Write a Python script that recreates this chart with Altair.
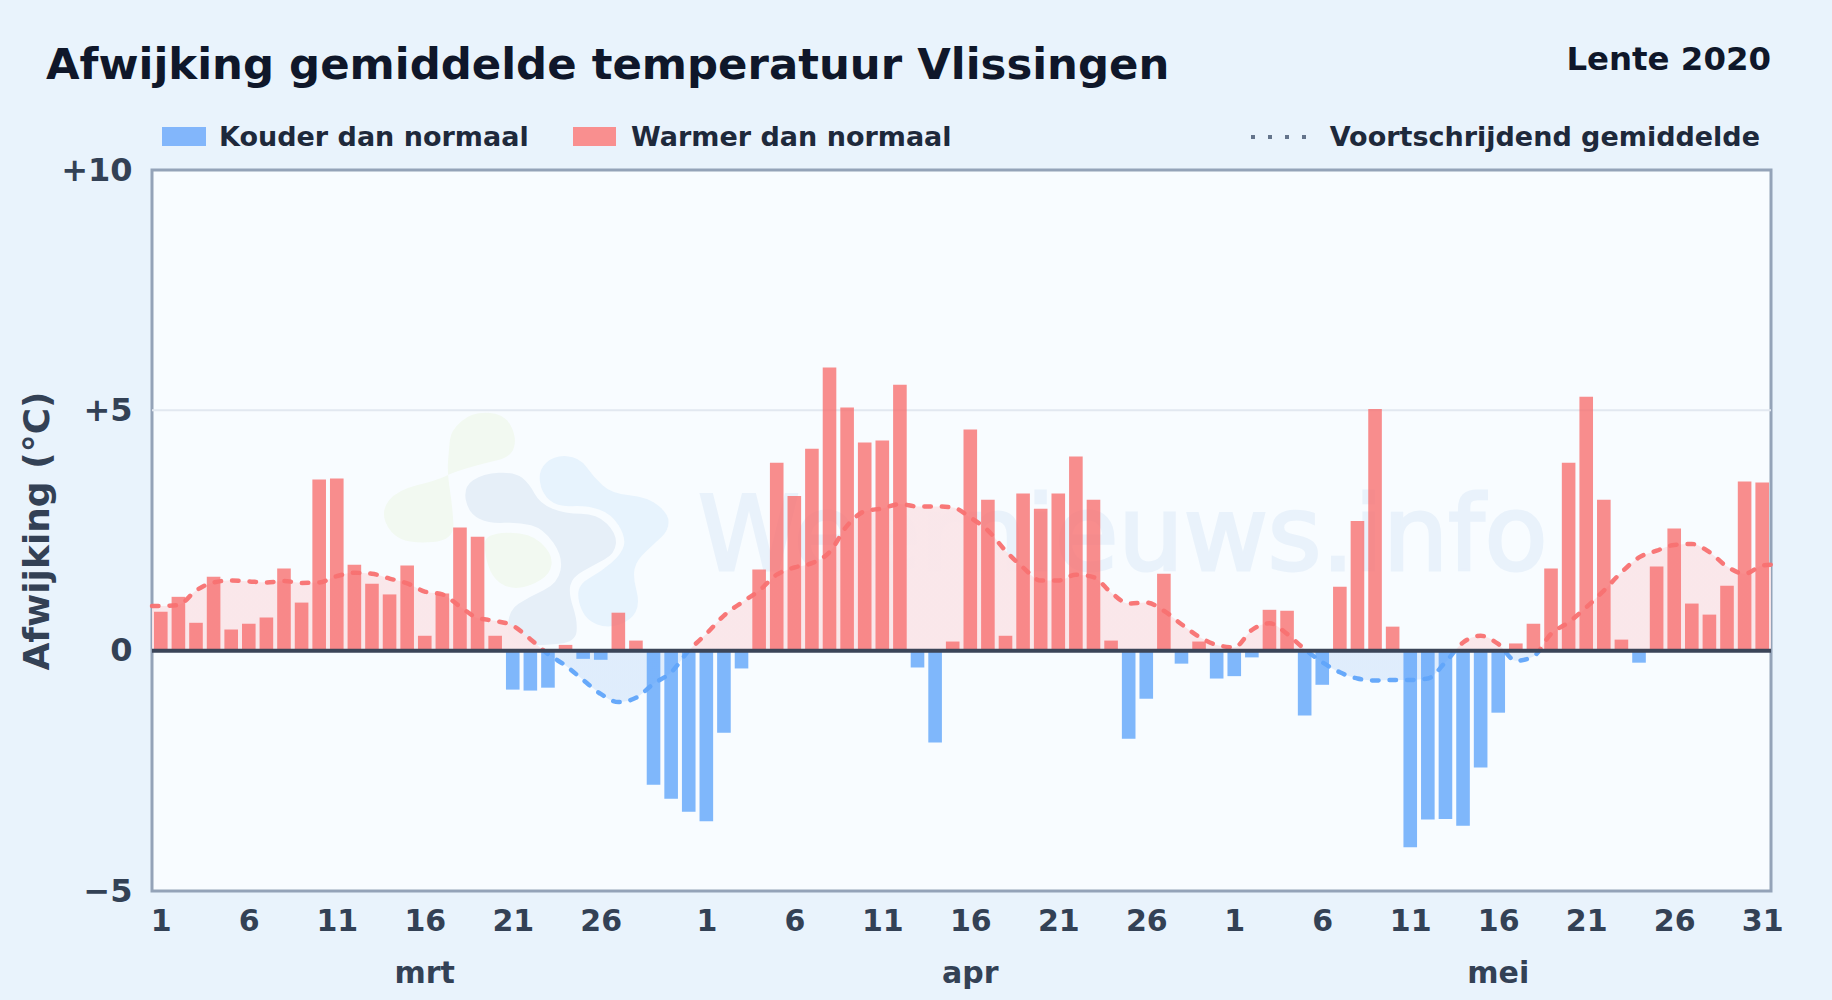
import altair as alt
import pandas as pd

# ---- data ----
anomaly = [
    # March
    0.81, 1.12, 0.58, 1.54, 0.44, 0.56, 0.69, 1.71, 1.00, 3.56, 3.58, 1.79, 1.39, 1.17, 1.77, 0.31,
    1.19, 2.56, 2.37, 0.31, -0.81, -0.83, -0.77, 0.12, -0.17, -0.19, 0.79, 0.21, -2.79, -3.08, -3.35,
    # April
    -3.55, -1.71, -0.37, 1.69, 3.91, 3.22, 4.20, 5.89, 5.06, 4.33, 4.37, 5.53, -0.35, -1.91, 0.19,
    4.60, 3.14, 0.31, 3.27, 2.95, 3.27, 4.04, 3.14, 0.21, -1.83, -1.00, 1.60, -0.27, 0.19, -0.58,
    # May
    -0.53, -0.14, 0.85, 0.83, -1.35, -0.71, 1.33, 2.70, 5.03, 0.50, -4.09, -3.51, -3.50, -3.64, -2.43,
    -1.29, 0.15, 0.56, 1.71, 3.91, 5.28, 3.14, 0.23, -0.25, 1.75, 2.54, 0.98, 0.75, 1.35, 3.52, 3.50,
]
moving_avg = [
    0.93, 0.95, 1.25, 1.42, 1.46, 1.44, 1.42, 1.45, 1.41, 1.42, 1.55, 1.62, 1.60, 1.50, 1.40, 1.23,
    1.17, 0.92, 0.68, 0.62, 0.52, 0.24, -0.07, -0.31, -0.61, -0.90, -1.07, -0.98, -0.69, -0.45, 0.00,
    0.35, 0.73, 1.00, 1.25, 1.58, 1.73, 1.82, 2.05, 2.60, 2.90, 2.96, 3.05, 3.00, 3.00, 2.98,
    2.77, 2.50, 2.08, 1.73, 1.46, 1.46, 1.58, 1.53, 1.21, 0.98, 1.00, 0.83, 0.55, 0.29, 0.12,
    0.07, 0.43, 0.57, 0.35, 0.03, -0.24, -0.45, -0.58, -0.62, -0.61, -0.61, -0.58, -0.24, 0.17, 0.31,
    0.14, -0.21, -0.12, 0.35, 0.59, 0.90, 1.25, 1.63, 1.94, 2.08, 2.20, 2.22, 2.05, 1.75, 1.60, 1.77,
]
avg_start = 0.93
avg_end = 1.79
tick_days = [0, 5, 10, 15, 20, 25, 31, 36, 41, 46, 51, 56, 61, 66, 71, 76, 81, 86, 91]
tick_labels = ["1", "6", "11", "16", "21", "26", "1", "6", "11", "16", "21", "26",
               "1", "6", "11", "16", "21", "26", "31"]
months = ["mrt", "apr", "mei"]
month_days = [15, 46, 76]

FONT = "DejaVu Sans"
RED = "#f87171"
BLUE = "#60a5fa"
PAGE = "#e9f3fc"
PLOT_LEFT = 152
PLOT_TOP = 170

days = list(range(len(anomaly)))
bars = pd.DataFrame({"x": [d + 0.5 for d in days], "v": anomaly})
bars["kind"] = ["warm" if v >= 0 else "cold" for v in anomaly]
avg = pd.DataFrame({
    "x": [0.0] + [d + 0.5 for d in days] + [float(len(days))],
    "v": [avg_start] + moving_avg + [avg_end],
})
avg["zero"] = 0.0

x_scale = alt.Scale(domain=[0, len(days)], nice=False, zero=False, padding=0)
y_scale = alt.Scale(domain=[-5, 10], nice=False)
x_axis = alt.Axis(
    values=[d + 0.5 for d in tick_days],
    labelExpr="{" + ",".join(f"'{d + 0.5}':'{t}'" for d, t in zip(tick_days, tick_labels)) + "}[''+datum.value]",
    grid=False, domain=False, ticks=False, labelFont=FONT, labelFontSize=30, labelFontWeight="bold",
    labelColor="#334155", labelPadding=15, labelFlush=False, labelOverlap=False, title=None,
)
y_axis = alt.Axis(
    values=[-5, 0, 5, 10],
    labelExpr="datum.value > 0 ? '+' + datum.value : (datum.value < 0 ? '\u2212' + abs(datum.value) : '0')",
    grid=False, domain=False, ticks=False, labelFont=FONT, labelFontSize=32, labelFontWeight="bold",
    labelColor="#334155", labelPadding=20, labelOverlap=False, title="Afwijking (°C)",
    titleFont=FONT, titleFontSize=36, titleFontWeight="bold", titleColor="#334155", titlePadding=4,
)
X = alt.X("x:Q", scale=x_scale, axis=x_axis)
Y = alt.Y("v:Q", scale=y_scale, axis=y_axis)

# split colour exactly at zero, via a gradient over the curve's bounding box
top, bottom = max(moving_avg + [avg_end]), min(moving_avg)
split = top / (top - bottom)


def split_gradient(upper, lower):
    return alt.Gradient(
        gradient="linear", x1=0, y1=0, x2=0, y2=1,
        stops=[
            alt.GradientStop(offset=0, color=upper),
            alt.GradientStop(offset=split, color=upper),
            alt.GradientStop(offset=split, color=lower),
            alt.GradientStop(offset=1, color=lower),
        ],
    )


area = alt.Chart(avg).mark_area(
    interpolate="monotone", color=split_gradient("#fae6e9", "#deecfc"), opacity=0.95
).encode(x=X, y=Y, y2="zero:Q")

line = alt.Chart(avg).mark_line(
    interpolate="monotone", strokeWidth=4.5, strokeDash=[6.5, 11], strokeCap="round",
    color=split_gradient(RED, BLUE), opacity=0.95,
).encode(x=X, y=Y)

bar = alt.Chart(bars).mark_bar(size=13.6, opacity=0.8).encode(
    x=X, y=Y, y2=alt.Y2(datum=0),
    color=alt.Color("kind:N", scale=alt.Scale(domain=["warm", "cold"], range=[RED, BLUE]), legend=None),
)

grid5 = alt.Chart(pd.DataFrame({"v": [5]})).mark_rule(color="#e2e8f0", strokeWidth=2).encode(y=Y)
zero_line = alt.Chart(pd.DataFrame({"v": [0]})).mark_rule(color="#3b4558", strokeWidth=4).encode(y=Y)


# ---- faint watermark ----
def blob(points, colour):
    cx = (min(p[0] for p in points) + max(p[0] for p in points)) / 2
    cy = (min(p[1] for p in points) + max(p[1] for p in points)) / 2
    px = [((a / 2.8 + 140), (b / 3 + 397)) for a, b in points]
    ox, oy = cx / 2.8 + 140, cy / 3 + 397
    box = 300.0
    n = [((a - ox) / box * 2, (b - oy) / box * 2) for a, b in px]
    mids = [((n[i][0] + n[(i + 1) % len(n)][0]) / 2, (n[i][1] + n[(i + 1) % len(n)][1]) / 2) for i in range(len(n))]
    path = f"M{mids[-1][0]:.4f},{mids[-1][1]:.4f}"
    for i, p in enumerate(n):
        path += f"Q{p[0]:.4f},{p[1]:.4f},{mids[i][0]:.4f},{mids[i][1]:.4f}"
    path += "Z"
    return alt.Chart(pd.DataFrame({"a": [0]})).mark_point(
        shape=path, size=box * box, filled=True, fill=colour, stroke=None, opacity=1, clip=False
    ).encode(x=alt.value(ox - PLOT_LEFT), y=alt.value(oy - PLOT_TOP))


blobs = [
    blob([(870,100),(930,45),(1020,50),(1055,120),(1040,180),(960,200),(880,225),(830,250),(720,280),(675,340),
          (700,410),(760,440),(880,430),(875,330),(860,225),(865,160)], "#f2f9f1"),
    blob([(965,410),(1090,405),(1155,470),(1150,530),(1090,570),(1030,575),(985,540),(965,470)], "#f2f9f1"),
    blob([(905,270),(960,230),(1050,225),(1090,260),(1120,320),(1190,350),(1280,350),(1335,410),(1330,470),
          (1270,505),(1210,540),(1200,590),(1225,670),(1220,735),(1130,745),(1030,745),(1030,640),(1090,600),
          (1170,560),(1185,480),(1130,395),(1060,375),(980,380),(920,350)], "#e6eff8"),
    blob([(1115,220),(1160,175),(1230,180),(1270,240),(1320,290),(1420,300),(1480,350),(1480,400),(1440,440),
          (1390,490),(1380,540),(1400,620),(1375,670),(1310,695),(1250,670),(1225,610),(1230,560),(1290,525),
          (1350,470),(1360,420),(1320,350),(1250,325),(1170,330),(1125,290)], "#e7f3fd"),
]


def text_at(label, px, py, size, colour, align="left", weight="bold", **kw):
    return alt.Chart(pd.DataFrame({"t": [label]})).mark_text(
        font=FONT, fontSize=size, fontWeight=weight, color=colour, align=align, baseline="alphabetic", clip=False, **kw
    ).encode(x=alt.value(px - PLOT_LEFT), y=alt.value(py - PLOT_TOP), text="t:N")


def swatch(x0, x1, colour):
    return alt.Chart(pd.DataFrame({"a": [0]})).mark_rect(color=colour, clip=False).encode(
        x=alt.value(x0 - PLOT_LEFT), x2=alt.value(x1 - PLOT_LEFT),
        y=alt.value(127 - PLOT_TOP), y2=alt.value(146 - PLOT_TOP),
    )


watermark_text = text_at("Weernieuws.info", 698, 570, 103, "#e9f2fb", weight="normal",
                         stroke="#e9f2fb", strokeWidth=3)

month_text = alt.Chart(pd.DataFrame({"x": [d + 0.5 for d in month_days], "t": months})).mark_text(
    font=FONT, fontSize=30, fontWeight="bold", color="#334155", baseline="alphabetic", clip=False
).encode(x=X, y=alt.value(983 - PLOT_TOP), text="t:N")

avg_sample = alt.Chart(pd.DataFrame({"a": [0]})).mark_rule(
    color="#64748b", strokeWidth=4, strokeDash=[4, 13], clip=False
).encode(x=alt.value(1251 - PLOT_LEFT), x2=alt.value(1310 - PLOT_LEFT), y=alt.value(137 - PLOT_TOP))

chart = alt.layer(
    *blobs, watermark_text, grid5, area, bar, line, zero_line, month_text,
    swatch(162, 206, "#82b6fb"), text_at("Kouder dan normaal", 219, 146, 27, "#1e293b"),
    swatch(573, 616, "#f98f8f"), text_at("Warmer dan normaal", 631, 146, 27, "#1e293b"),
    avg_sample, text_at("Voortschrijdend gemiddelde", 1760, 146, 27, "#1e293b", align="right"),
    text_at("Afwijking gemiddelde temperatuur Vlissingen", 46, 79, 43.4, "#0f172a"),
    text_at("Lente 2020", 1771, 70, 32.4, "#0f172a", align="right"),
).properties(
    width=1619, height=721,
    background=PAGE,
    padding={"left": PLOT_LEFT - 8, "top": PLOT_TOP - 8, "right": 53, "bottom": 101},
    autosize=alt.AutoSizeParams(type="none"),
).configure_view(fill="#f8fcff", stroke="#94a3b8", strokeWidth=3)

chart.save("out.html", embed_options={"renderer": "svg", "actions": False,
                                      "defaultStyle": f"html,body{{background:{PAGE};}}"})
